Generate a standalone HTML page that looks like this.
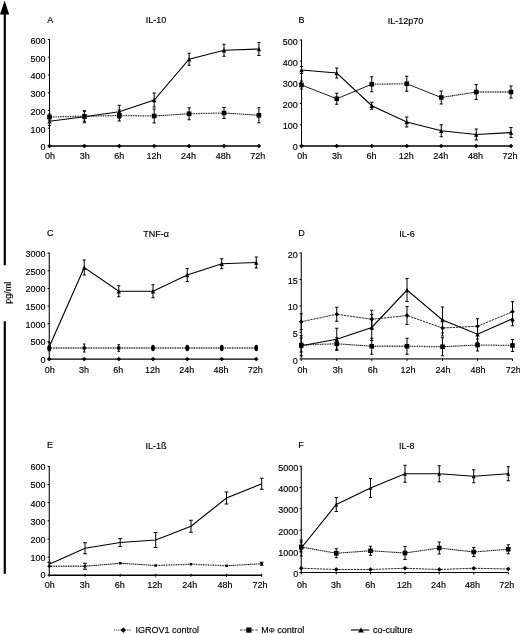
<!DOCTYPE html>
<html lang="en"><head><meta charset="utf-8"><title>Cytokine time course</title>
<style>html,body{margin:0;padding:0;background:#fff}svg{display:block}</style></head>
<body>
<svg width="520" height="634" viewBox="0 0 520 634" font-family='"Liberation Sans", sans-serif' fill="#000">
<style>text{stroke:#000;stroke-width:0.15px}</style>
<rect width="520" height="634" fill="#fff"/>
<path d="M4.6 0.5L9.2 14.6H0Z" fill="#000"/>
<path d="M4.8 14V265.3M4.8 321.2V573.8" stroke="#000" stroke-width="2.2" fill="none"/>
<text transform="translate(10.7 292.8) rotate(-90)" text-anchor="middle" font-size="9">pg/ml</text>
<path d="M47.8 146H49.5" stroke="#000" stroke-width="1"/>
<text x="45.5" y="150.3" text-anchor="end" font-size="9">0</text>
<path d="M47.8 128.25H49.5" stroke="#000" stroke-width="1"/>
<text x="45.5" y="132.55" text-anchor="end" font-size="9">100</text>
<path d="M47.8 110.5H49.5" stroke="#000" stroke-width="1"/>
<text x="45.5" y="114.8" text-anchor="end" font-size="9">200</text>
<path d="M47.8 92.75H49.5" stroke="#000" stroke-width="1"/>
<text x="45.5" y="97.05" text-anchor="end" font-size="9">300</text>
<path d="M47.8 75H49.5" stroke="#000" stroke-width="1"/>
<text x="45.5" y="79.3" text-anchor="end" font-size="9">400</text>
<path d="M47.8 57.25H49.5" stroke="#000" stroke-width="1"/>
<text x="45.5" y="61.55" text-anchor="end" font-size="9">500</text>
<path d="M47.8 39.5H49.5" stroke="#000" stroke-width="1"/>
<text x="45.5" y="43.8" text-anchor="end" font-size="9">600</text>
<text x="50.1" y="159.4" text-anchor="middle" font-size="9">0h</text>
<text x="84.72" y="159.4" text-anchor="middle" font-size="9">3h</text>
<text x="119.34" y="159.4" text-anchor="middle" font-size="9">6h</text>
<text x="153.96" y="159.4" text-anchor="middle" font-size="9">12h</text>
<text x="188.58" y="159.4" text-anchor="middle" font-size="9">24h</text>
<text x="223.2" y="159.4" text-anchor="middle" font-size="9">48h</text>
<text x="257.82" y="159.4" text-anchor="middle" font-size="9">72h</text>
<text x="47.2" y="22.9" text-anchor="start" font-size="9">A</text>
<text x="156" y="23.3" text-anchor="middle" font-size="9">IL-10</text>
<path d="M49.5 39V146" fill="none" stroke="#000" stroke-width="1.05"/>
<path d="M49 146H258.9" fill="none" stroke="#000" stroke-width="1.35"/>
<path d="M49.5 144.1L51.4 146L49.5 147.9L47.6 146Z" fill="#000" stroke="#000" stroke-width="0.7" stroke-linejoin="round"/>
<path d="M84.4 144.1L86.3 146L84.4 147.9L82.5 146Z" fill="#000" stroke="#000" stroke-width="0.7" stroke-linejoin="round"/>
<path d="M119.3 144.1L121.2 146L119.3 147.9L117.4 146Z" fill="#000" stroke="#000" stroke-width="0.7" stroke-linejoin="round"/>
<path d="M154.2 144.1L156.1 146L154.2 147.9L152.3 146Z" fill="#000" stroke="#000" stroke-width="0.7" stroke-linejoin="round"/>
<path d="M189.1 144.1L191 146L189.1 147.9L187.2 146Z" fill="#000" stroke="#000" stroke-width="0.7" stroke-linejoin="round"/>
<path d="M224 144.1L225.9 146L224 147.9L222.1 146Z" fill="#000" stroke="#000" stroke-width="0.7" stroke-linejoin="round"/>
<path d="M258.9 144.1L260.8 146L258.9 147.9L257 146Z" fill="#000" stroke="#000" stroke-width="0.7" stroke-linejoin="round"/>
<path d="M49.5 117L84.4 116.25" fill="none" stroke="#1a1a1a" stroke-width="1.3" stroke-dasharray="0.95 0.75"/>
<path d="M84.4 116.25L119.3 115.5" fill="none" stroke="#1a1a1a" stroke-width="1.3" stroke-dasharray="0.95 0.75"/>
<path d="M119.3 115.5L154.2 116" fill="none" stroke="#1a1a1a" stroke-width="1.3" stroke-dasharray="0.95 0.75"/>
<path d="M154.2 116L189.1 113.75" fill="none" stroke="#222" stroke-width="1.05" stroke-dasharray="1.6 0.5"/>
<path d="M189.1 113.75L224 113" fill="none" stroke="#1a1a1a" stroke-width="1.3" stroke-dasharray="0.95 0.75"/>
<path d="M224 113L258.9 115.25" fill="none" stroke="#222" stroke-width="1.05" stroke-dasharray="1.6 0.5"/>
<path d="M49.5 114V120M47.9 114H51.1M47.9 120H51.1" stroke="#000" stroke-width="1.0" fill="none"/>
<path d="M84.4 111.25V121.25M82.8 111.25H86M82.8 121.25H86" stroke="#000" stroke-width="1.0" fill="none"/>
<path d="M119.3 110V121M117.7 110H120.9M117.7 121H120.9" stroke="#000" stroke-width="1.0" fill="none"/>
<path d="M154.2 109V123M152.6 109H155.8M152.6 123H155.8" stroke="#000" stroke-width="1.0" fill="none"/>
<path d="M189.1 107.75V119.75M187.5 107.75H190.7M187.5 119.75H190.7" stroke="#000" stroke-width="1.0" fill="none"/>
<path d="M224 107.5V118.5M222.4 107.5H225.6M222.4 118.5H225.6" stroke="#000" stroke-width="1.0" fill="none"/>
<path d="M258.9 107.75V122.75M257.3 107.75H260.5M257.3 122.75H260.5" stroke="#000" stroke-width="1.0" fill="none"/>
<rect x="47.2" y="114.7" width="4.6" height="4.6" fill="#000"/>
<rect x="82.1" y="113.95" width="4.6" height="4.6" fill="#000"/>
<rect x="117" y="113.2" width="4.6" height="4.6" fill="#000"/>
<rect x="151.9" y="113.7" width="4.6" height="4.6" fill="#000"/>
<rect x="186.8" y="111.45" width="4.6" height="4.6" fill="#000"/>
<rect x="221.7" y="110.7" width="4.6" height="4.6" fill="#000"/>
<rect x="256.6" y="112.95" width="4.6" height="4.6" fill="#000"/>
<polyline points="49.5,121.25 84.4,116.75 119.3,111.75 154.2,100 189.1,59.25 224,50.25 258.9,49" fill="none" stroke="#000" stroke-width="1.15"/>
<path d="M49.5 117.25V125.25M47.9 117.25H51.1M47.9 125.25H51.1" stroke="#000" stroke-width="1.0" fill="none"/>
<path d="M84.4 110.75V122.75M82.8 110.75H86M82.8 122.75H86" stroke="#000" stroke-width="1.0" fill="none"/>
<path d="M119.3 105.25V118.25M117.7 105.25H120.9M117.7 118.25H120.9" stroke="#000" stroke-width="1.0" fill="none"/>
<path d="M154.2 93V107M152.6 93H155.8M152.6 107H155.8" stroke="#000" stroke-width="1.0" fill="none"/>
<path d="M189.1 53.25V65.25M187.5 53.25H190.7M187.5 65.25H190.7" stroke="#000" stroke-width="1.0" fill="none"/>
<path d="M224 44.25V56.25M222.4 44.25H225.6M222.4 56.25H225.6" stroke="#000" stroke-width="1.0" fill="none"/>
<path d="M258.9 42.5V55.5M257.3 42.5H260.5M257.3 55.5H260.5" stroke="#000" stroke-width="1.0" fill="none"/>
<path d="M49.5 119.05L51.7 123.45L47.3 123.45Z" fill="#000"/>
<path d="M84.4 114.55L86.6 118.95L82.2 118.95Z" fill="#000"/>
<path d="M119.3 109.55L121.5 113.95L117.1 113.95Z" fill="#000"/>
<path d="M154.2 97.8L156.4 102.2L152 102.2Z" fill="#000"/>
<path d="M189.1 57.05L191.3 61.45L186.9 61.45Z" fill="#000"/>
<path d="M224 48.05L226.2 52.45L221.8 52.45Z" fill="#000"/>
<path d="M258.9 46.8L261.1 51.2L256.7 51.2Z" fill="#000"/>
<path d="M299.8 146H301.5" stroke="#000" stroke-width="1"/>
<text x="297.7" y="150.4" text-anchor="end" font-size="9">0</text>
<path d="M299.8 124.8H301.5" stroke="#000" stroke-width="1"/>
<text x="297.7" y="129.4" text-anchor="end" font-size="9">100</text>
<path d="M299.8 103.6H301.5" stroke="#000" stroke-width="1"/>
<text x="297.7" y="108.2" text-anchor="end" font-size="9">200</text>
<path d="M299.8 82.4H301.5" stroke="#000" stroke-width="1"/>
<text x="297.7" y="87" text-anchor="end" font-size="9">300</text>
<path d="M299.8 61.2H301.5" stroke="#000" stroke-width="1"/>
<text x="297.7" y="65.8" text-anchor="end" font-size="9">400</text>
<path d="M299.8 40H301.5" stroke="#000" stroke-width="1"/>
<text x="297.7" y="44.6" text-anchor="end" font-size="9">500</text>
<text x="302.3" y="159.2" text-anchor="middle" font-size="9">0h</text>
<text x="336.93" y="159.2" text-anchor="middle" font-size="9">3h</text>
<text x="371.56" y="159.2" text-anchor="middle" font-size="9">6h</text>
<text x="406.19" y="159.2" text-anchor="middle" font-size="9">12h</text>
<text x="440.82" y="159.2" text-anchor="middle" font-size="9">24h</text>
<text x="475.45" y="159.2" text-anchor="middle" font-size="9">48h</text>
<text x="510.08" y="159.2" text-anchor="middle" font-size="9">72h</text>
<text x="298.4" y="22.9" text-anchor="start" font-size="9">B</text>
<text x="405.5" y="23.6" text-anchor="middle" font-size="9">IL-12p70</text>
<path d="M301.5 39.5V146" fill="none" stroke="#000" stroke-width="1.05"/>
<path d="M301 146H511" fill="none" stroke="#000" stroke-width="1.35"/>
<path d="M301.5 144.1L303.4 146L301.5 147.9L299.6 146Z" fill="#000" stroke="#000" stroke-width="0.7" stroke-linejoin="round"/>
<path d="M336.75 144.1L338.65 146L336.75 147.9L334.85 146Z" fill="#000" stroke="#000" stroke-width="0.7" stroke-linejoin="round"/>
<path d="M371.75 144.1L373.65 146L371.75 147.9L369.85 146Z" fill="#000" stroke="#000" stroke-width="0.7" stroke-linejoin="round"/>
<path d="M406.75 144.1L408.65 146L406.75 147.9L404.85 146Z" fill="#000" stroke="#000" stroke-width="0.7" stroke-linejoin="round"/>
<path d="M441.25 144.1L443.15 146L441.25 147.9L439.35 146Z" fill="#000" stroke="#000" stroke-width="0.7" stroke-linejoin="round"/>
<path d="M476.25 144.1L478.15 146L476.25 147.9L474.35 146Z" fill="#000" stroke="#000" stroke-width="0.7" stroke-linejoin="round"/>
<path d="M511 144.1L512.9 146L511 147.9L509.1 146Z" fill="#000" stroke="#000" stroke-width="0.7" stroke-linejoin="round"/>
<path d="M301.5 85L336.75 98.75" fill="none" stroke="#111" stroke-width="0.95"/>
<path d="M336.75 98.75L371.75 84.25" fill="none" stroke="#111" stroke-width="0.95"/>
<path d="M371.75 84.25L406.75 83.75" fill="none" stroke="#1a1a1a" stroke-width="1.3" stroke-dasharray="0.95 0.75"/>
<path d="M406.75 83.75L441.25 97.5" fill="none" stroke="#111" stroke-width="0.95"/>
<path d="M441.25 97.5L476.25 92" fill="none" stroke="#222" stroke-width="1.05" stroke-dasharray="1.6 0.5"/>
<path d="M476.25 92L511 92" fill="none" stroke="#1a1a1a" stroke-width="1.3" stroke-dasharray="0.95 0.75"/>
<path d="M301.5 81V89M299.9 81H303.1M299.9 89H303.1" stroke="#000" stroke-width="1.0" fill="none"/>
<path d="M336.75 93.25V104.25M335.15 93.25H338.35M335.15 104.25H338.35" stroke="#000" stroke-width="1.0" fill="none"/>
<path d="M371.75 76.75V91.75M370.15 76.75H373.35M370.15 91.75H373.35" stroke="#000" stroke-width="1.0" fill="none"/>
<path d="M406.75 76.25V91.25M405.15 76.25H408.35M405.15 91.25H408.35" stroke="#000" stroke-width="1.0" fill="none"/>
<path d="M441.25 91V104M439.65 91H442.85M439.65 104H442.85" stroke="#000" stroke-width="1.0" fill="none"/>
<path d="M476.25 84.5V99.5M474.65 84.5H477.85M474.65 99.5H477.85" stroke="#000" stroke-width="1.0" fill="none"/>
<path d="M511 86V98M509.4 86H512.6M509.4 98H512.6" stroke="#000" stroke-width="1.0" fill="none"/>
<rect x="299.2" y="82.7" width="4.6" height="4.6" fill="#000"/>
<rect x="334.45" y="96.45" width="4.6" height="4.6" fill="#000"/>
<rect x="369.45" y="81.95" width="4.6" height="4.6" fill="#000"/>
<rect x="404.45" y="81.45" width="4.6" height="4.6" fill="#000"/>
<rect x="438.95" y="95.2" width="4.6" height="4.6" fill="#000"/>
<rect x="473.95" y="89.7" width="4.6" height="4.6" fill="#000"/>
<rect x="508.7" y="89.7" width="4.6" height="4.6" fill="#000"/>
<polyline points="301.5,70 336.75,73 371.75,105.75 406.75,122 441.25,130.75 476.25,134.5 511,132.5" fill="none" stroke="#000" stroke-width="1.15"/>
<path d="M301.5 66.5V73.5M299.9 66.5H303.1M299.9 73.5H303.1" stroke="#000" stroke-width="1.0" fill="none"/>
<path d="M336.75 68V78M335.15 68H338.35M335.15 78H338.35" stroke="#000" stroke-width="1.0" fill="none"/>
<path d="M371.75 102.25V109.25M370.15 102.25H373.35M370.15 109.25H373.35" stroke="#000" stroke-width="1.0" fill="none"/>
<path d="M406.75 117V127M405.15 117H408.35M405.15 127H408.35" stroke="#000" stroke-width="1.0" fill="none"/>
<path d="M441.25 124.75V136.75M439.65 124.75H442.85M439.65 136.75H442.85" stroke="#000" stroke-width="1.0" fill="none"/>
<path d="M476.25 129V140M474.65 129H477.85M474.65 140H477.85" stroke="#000" stroke-width="1.0" fill="none"/>
<path d="M511 127.5V137.5M509.4 127.5H512.6M509.4 137.5H512.6" stroke="#000" stroke-width="1.0" fill="none"/>
<path d="M301.5 67.8L303.7 72.2L299.3 72.2Z" fill="#000"/>
<path d="M336.75 70.8L338.95 75.2L334.55 75.2Z" fill="#000"/>
<path d="M371.75 103.55L373.95 107.95L369.55 107.95Z" fill="#000"/>
<path d="M406.75 119.8L408.95 124.2L404.55 124.2Z" fill="#000"/>
<path d="M441.25 128.55L443.45 132.95L439.05 132.95Z" fill="#000"/>
<path d="M476.25 132.3L478.45 136.7L474.05 136.7Z" fill="#000"/>
<path d="M511 130.3L513.2 134.7L508.8 134.7Z" fill="#000"/>
<path d="M47.55 359.1H49.25" stroke="#000" stroke-width="1"/>
<text x="45.45" y="363.1" text-anchor="end" font-size="9">0</text>
<path d="M47.55 341.43H49.25" stroke="#000" stroke-width="1"/>
<text x="45.45" y="345.23" text-anchor="end" font-size="9">500</text>
<path d="M47.55 323.77H49.25" stroke="#000" stroke-width="1"/>
<text x="45.45" y="327.57" text-anchor="end" font-size="9">1000</text>
<path d="M47.55 306.1H49.25" stroke="#000" stroke-width="1"/>
<text x="45.45" y="309.9" text-anchor="end" font-size="9">1500</text>
<path d="M47.55 288.43H49.25" stroke="#000" stroke-width="1"/>
<text x="45.45" y="292.23" text-anchor="end" font-size="9">2000</text>
<path d="M47.55 270.77H49.25" stroke="#000" stroke-width="1"/>
<text x="45.45" y="274.57" text-anchor="end" font-size="9">2500</text>
<path d="M47.55 253.1H49.25" stroke="#000" stroke-width="1"/>
<text x="45.45" y="256.9" text-anchor="end" font-size="9">3000</text>
<text x="49.85" y="373.4" text-anchor="middle" font-size="9">0h</text>
<text x="84.1" y="373.4" text-anchor="middle" font-size="9">3h</text>
<text x="118.35" y="373.4" text-anchor="middle" font-size="9">6h</text>
<text x="152.6" y="373.4" text-anchor="middle" font-size="9">12h</text>
<text x="186.85" y="373.4" text-anchor="middle" font-size="9">24h</text>
<text x="221.1" y="373.4" text-anchor="middle" font-size="9">48h</text>
<text x="255.35" y="373.4" text-anchor="middle" font-size="9">72h</text>
<text x="46.95" y="236.4" text-anchor="start" font-size="9">C</text>
<text x="156.1" y="236.9" text-anchor="middle" font-size="9">TNF-α</text>
<path d="M49.25 252.6V359.1" fill="none" stroke="#000" stroke-width="1.05"/>
<path d="M48.75 359.1H256.25" fill="none" stroke="#000" stroke-width="1.35"/>
<path d="M49.25 357.2L51.15 359.1L49.25 361L47.35 359.1Z" fill="#000" stroke="#000" stroke-width="0.7" stroke-linejoin="round"/>
<path d="M84.25 357.2L86.15 359.1L84.25 361L82.35 359.1Z" fill="#000" stroke="#000" stroke-width="0.7" stroke-linejoin="round"/>
<path d="M118.75 357.2L120.65 359.1L118.75 361L116.85 359.1Z" fill="#000" stroke="#000" stroke-width="0.7" stroke-linejoin="round"/>
<path d="M153 357.2L154.9 359.1L153 361L151.1 359.1Z" fill="#000" stroke="#000" stroke-width="0.7" stroke-linejoin="round"/>
<path d="M187.25 357.2L189.15 359.1L187.25 361L185.35 359.1Z" fill="#000" stroke="#000" stroke-width="0.7" stroke-linejoin="round"/>
<path d="M221.75 357.2L223.65 359.1L221.75 361L219.85 359.1Z" fill="#000" stroke="#000" stroke-width="0.7" stroke-linejoin="round"/>
<path d="M256.25 357.2L258.15 359.1L256.25 361L254.35 359.1Z" fill="#000" stroke="#000" stroke-width="0.7" stroke-linejoin="round"/>
<path d="M49.25 348L84.25 348" fill="none" stroke="#1a1a1a" stroke-width="1.3" stroke-dasharray="0.95 0.75"/>
<path d="M84.25 348L118.75 348" fill="none" stroke="#1a1a1a" stroke-width="1.3" stroke-dasharray="0.95 0.75"/>
<path d="M118.75 348L153 348" fill="none" stroke="#1a1a1a" stroke-width="1.3" stroke-dasharray="0.95 0.75"/>
<path d="M153 348L187.25 348" fill="none" stroke="#1a1a1a" stroke-width="1.3" stroke-dasharray="0.95 0.75"/>
<path d="M187.25 348L221.75 348" fill="none" stroke="#1a1a1a" stroke-width="1.3" stroke-dasharray="0.95 0.75"/>
<path d="M221.75 348L256.25 348" fill="none" stroke="#1a1a1a" stroke-width="1.3" stroke-dasharray="0.95 0.75"/>
<path d="M84.25 344V352M82.95 344H85.55M82.95 352H85.55" stroke="#000" stroke-width="1.0" fill="none"/>
<path d="M118.75 344.7V351.3M117.45 344.7H120.05M117.45 351.3H120.05" stroke="#000" stroke-width="1.0" fill="none"/>
<polyline points="49.25,346.75 84.25,267.5 118.75,291.25 153,291.25 187.25,275 221.75,263.75 256.25,262.5" fill="none" stroke="#000" stroke-width="1.15"/>
<path d="M49.25 342.75V350.75M47.65 342.75H50.85M47.65 350.75H50.85" stroke="#000" stroke-width="1.0" fill="none"/>
<path d="M84.25 260V275M82.65 260H85.85M82.65 275H85.85" stroke="#000" stroke-width="1.0" fill="none"/>
<path d="M118.75 285.75V296.75M117.15 285.75H120.35M117.15 296.75H120.35" stroke="#000" stroke-width="1.0" fill="none"/>
<path d="M153 284.75V297.75M151.4 284.75H154.6M151.4 297.75H154.6" stroke="#000" stroke-width="1.0" fill="none"/>
<path d="M187.25 268.5V281.5M185.65 268.5H188.85M185.65 281.5H188.85" stroke="#000" stroke-width="1.0" fill="none"/>
<path d="M221.75 258.75V268.75M220.15 258.75H223.35M220.15 268.75H223.35" stroke="#000" stroke-width="1.0" fill="none"/>
<path d="M256.25 257V268M254.65 257H257.85M254.65 268H257.85" stroke="#000" stroke-width="1.0" fill="none"/>
<path d="M49.25 344.55L51.45 348.95L47.05 348.95Z" fill="#000"/>
<path d="M84.25 265.3L86.45 269.7L82.05 269.7Z" fill="#000"/>
<path d="M118.75 289.05L120.95 293.45L116.55 293.45Z" fill="#000"/>
<path d="M153 289.05L155.2 293.45L150.8 293.45Z" fill="#000"/>
<path d="M187.25 272.8L189.45 277.2L185.05 277.2Z" fill="#000"/>
<path d="M221.75 261.55L223.95 265.95L219.55 265.95Z" fill="#000"/>
<path d="M256.25 260.3L258.45 264.7L254.05 264.7Z" fill="#000"/>
<ellipse cx="49.25" cy="348" rx="1.9" ry="3.3" fill="#000"/>
<rect x="82.65" y="346.4" width="3.2" height="3.2" fill="#000"/>
<rect x="117.15" y="346.4" width="3.2" height="3.2" fill="#000"/>
<ellipse cx="153" cy="348" rx="1.9" ry="3.3" fill="#000"/>
<ellipse cx="187.25" cy="348" rx="1.9" ry="3.3" fill="#000"/>
<ellipse cx="221.75" cy="348" rx="1.9" ry="3.3" fill="#000"/>
<ellipse cx="256.25" cy="348" rx="1.9" ry="3.3" fill="#000"/>
<path d="M299.55 358.9H301.25" stroke="#000" stroke-width="1"/>
<text x="297.75" y="364.1" text-anchor="end" font-size="9">0</text>
<path d="M299.55 332.42H301.25" stroke="#000" stroke-width="1"/>
<text x="297.75" y="336.92" text-anchor="end" font-size="9">5</text>
<path d="M299.55 305.95H301.25" stroke="#000" stroke-width="1"/>
<text x="297.75" y="310.45" text-anchor="end" font-size="9">10</text>
<path d="M299.55 279.48H301.25" stroke="#000" stroke-width="1"/>
<text x="297.75" y="283.98" text-anchor="end" font-size="9">15</text>
<path d="M299.55 253H301.25" stroke="#000" stroke-width="1"/>
<text x="297.75" y="257.5" text-anchor="end" font-size="9">20</text>
<text x="302.6" y="373.4" text-anchor="middle" font-size="9">0h</text>
<text x="337.7" y="373.4" text-anchor="middle" font-size="9">3h</text>
<text x="372.8" y="373.4" text-anchor="middle" font-size="9">6h</text>
<text x="407.9" y="373.4" text-anchor="middle" font-size="9">12h</text>
<text x="443" y="373.4" text-anchor="middle" font-size="9">24h</text>
<text x="478.1" y="373.4" text-anchor="middle" font-size="9">48h</text>
<text x="513.2" y="373.4" text-anchor="middle" font-size="9">72h</text>
<text x="298.15" y="236.4" text-anchor="start" font-size="9">D</text>
<text x="407" y="237.1" text-anchor="middle" font-size="9">IL-6</text>
<path d="M301.25 252.5V358.9" fill="none" stroke="#000" stroke-width="1.05"/>
<path d="M300.75 358.9H512.5" fill="none" stroke="#5c5c5c" stroke-width="1.7"/>
<path d="M301.25 358.9V360.9" stroke="#000" stroke-width="1"/>
<path d="M336.75 358.9V360.9" stroke="#000" stroke-width="1"/>
<path d="M371.75 358.9V360.9" stroke="#000" stroke-width="1"/>
<path d="M407 358.9V360.9" stroke="#000" stroke-width="1"/>
<path d="M442.5 358.9V360.9" stroke="#000" stroke-width="1"/>
<path d="M477.5 358.9V360.9" stroke="#000" stroke-width="1"/>
<path d="M512.5 358.9V360.9" stroke="#000" stroke-width="1"/>
<polyline points="301.25,321.75 336.75,314.25 371.75,319.25 407,315.5 442.5,328 477.5,326.25 512.5,311.75" fill="none" stroke="#1c1c1c" stroke-width="0.95" stroke-dasharray="2.3 0.8"/>
<path d="M301.25 313.75V329.75M299.65 313.75H302.85M299.65 329.75H302.85" stroke="#000" stroke-width="1.0" fill="none"/>
<path d="M336.75 307.25V321.25M335.15 307.25H338.35M335.15 321.25H338.35" stroke="#000" stroke-width="1.0" fill="none"/>
<path d="M371.75 310.25V328.25M370.15 310.25H373.35M370.15 328.25H373.35" stroke="#000" stroke-width="1.0" fill="none"/>
<path d="M407 306.5V324.5M405.4 306.5H408.6M405.4 324.5H408.6" stroke="#000" stroke-width="1.0" fill="none"/>
<path d="M442.5 320V336M440.9 320H444.1M440.9 336H444.1" stroke="#000" stroke-width="1.0" fill="none"/>
<path d="M477.5 318.75V333.75M475.9 318.75H479.1M475.9 333.75H479.1" stroke="#000" stroke-width="1.0" fill="none"/>
<path d="M512.5 301.75V321.75M510.9 301.75H514.1M510.9 321.75H514.1" stroke="#000" stroke-width="1.0" fill="none"/>
<path d="M301.25 319.85L303.15 321.75L301.25 323.65L299.35 321.75Z" fill="#000" stroke="#000" stroke-width="0.7" stroke-linejoin="round"/>
<path d="M336.75 312.35L338.65 314.25L336.75 316.15L334.85 314.25Z" fill="#000" stroke="#000" stroke-width="0.7" stroke-linejoin="round"/>
<path d="M371.75 317.35L373.65 319.25L371.75 321.15L369.85 319.25Z" fill="#000" stroke="#000" stroke-width="0.7" stroke-linejoin="round"/>
<path d="M407 313.6L408.9 315.5L407 317.4L405.1 315.5Z" fill="#000" stroke="#000" stroke-width="0.7" stroke-linejoin="round"/>
<path d="M442.5 326.1L444.4 328L442.5 329.9L440.6 328Z" fill="#000" stroke="#000" stroke-width="0.7" stroke-linejoin="round"/>
<path d="M477.5 324.35L479.4 326.25L477.5 328.15L475.6 326.25Z" fill="#000" stroke="#000" stroke-width="0.7" stroke-linejoin="round"/>
<path d="M512.5 309.85L514.4 311.75L512.5 313.65L510.6 311.75Z" fill="#000" stroke="#000" stroke-width="0.7" stroke-linejoin="round"/>
<path d="M301.25 345L336.75 343.75" fill="none" stroke="#1a1a1a" stroke-width="1.3" stroke-dasharray="0.95 0.75"/>
<path d="M336.75 343.75L371.75 346.25" fill="none" stroke="#222" stroke-width="1.05" stroke-dasharray="1.6 0.5"/>
<path d="M371.75 346.25L407 346.25" fill="none" stroke="#1a1a1a" stroke-width="1.3" stroke-dasharray="0.95 0.75"/>
<path d="M407 346.25L442.5 346.75" fill="none" stroke="#1a1a1a" stroke-width="1.3" stroke-dasharray="0.95 0.75"/>
<path d="M442.5 346.75L477.5 345" fill="none" stroke="#222" stroke-width="1.05" stroke-dasharray="1.6 0.5"/>
<path d="M477.5 345L512.5 345.5" fill="none" stroke="#1a1a1a" stroke-width="1.3" stroke-dasharray="0.95 0.75"/>
<path d="M301.25 338V352M299.65 338H302.85M299.65 352H302.85" stroke="#000" stroke-width="1.0" fill="none"/>
<path d="M336.75 337.75V349.75M335.15 337.75H338.35M335.15 349.75H338.35" stroke="#000" stroke-width="1.0" fill="none"/>
<path d="M371.75 338.25V354.25M370.15 338.25H373.35M370.15 354.25H373.35" stroke="#000" stroke-width="1.0" fill="none"/>
<path d="M407 338.25V354.25M405.4 338.25H408.6M405.4 354.25H408.6" stroke="#000" stroke-width="1.0" fill="none"/>
<path d="M442.5 337.75V355.75M440.9 337.75H444.1M440.9 355.75H444.1" stroke="#000" stroke-width="1.0" fill="none"/>
<path d="M477.5 339V351M475.9 339H479.1M475.9 351H479.1" stroke="#000" stroke-width="1.0" fill="none"/>
<path d="M512.5 339.5V351.5M510.9 339.5H514.1M510.9 351.5H514.1" stroke="#000" stroke-width="1.0" fill="none"/>
<rect x="298.95" y="342.7" width="4.6" height="4.6" fill="#000"/>
<rect x="334.45" y="341.45" width="4.6" height="4.6" fill="#000"/>
<rect x="369.45" y="343.95" width="4.6" height="4.6" fill="#000"/>
<rect x="404.7" y="343.95" width="4.6" height="4.6" fill="#000"/>
<rect x="440.2" y="344.45" width="4.6" height="4.6" fill="#000"/>
<rect x="475.2" y="342.7" width="4.6" height="4.6" fill="#000"/>
<rect x="510.2" y="343.2" width="4.6" height="4.6" fill="#000"/>
<polyline points="301.25,345.75 336.75,339.25 371.75,327.5 407,290 442.5,320 477.5,334.25 512.5,318.75" fill="none" stroke="#000" stroke-width="1.15"/>
<path d="M301.25 335.75V355.75M299.65 335.75H302.85M299.65 355.75H302.85" stroke="#000" stroke-width="1.0" fill="none"/>
<path d="M336.75 328.25V350.25M335.15 328.25H338.35M335.15 350.25H338.35" stroke="#000" stroke-width="1.0" fill="none"/>
<path d="M371.75 314.5V340.5M370.15 314.5H373.35M370.15 340.5H373.35" stroke="#000" stroke-width="1.0" fill="none"/>
<path d="M407 278.5V301.5M405.4 278.5H408.6M405.4 301.5H408.6" stroke="#000" stroke-width="1.0" fill="none"/>
<path d="M442.5 307V333M440.9 307H444.1M440.9 333H444.1" stroke="#000" stroke-width="1.0" fill="none"/>
<path d="M477.5 326.25V342.25M475.9 326.25H479.1M475.9 342.25H479.1" stroke="#000" stroke-width="1.0" fill="none"/>
<path d="M512.5 311.75V325.75M510.9 311.75H514.1M510.9 325.75H514.1" stroke="#000" stroke-width="1.0" fill="none"/>
<path d="M301.25 343.55L303.45 347.95L299.05 347.95Z" fill="#000"/>
<path d="M336.75 337.05L338.95 341.45L334.55 341.45Z" fill="#000"/>
<path d="M371.75 325.3L373.95 329.7L369.55 329.7Z" fill="#000"/>
<path d="M407 287.8L409.2 292.2L404.8 292.2Z" fill="#000"/>
<path d="M442.5 317.8L444.7 322.2L440.3 322.2Z" fill="#000"/>
<path d="M477.5 332.05L479.7 336.45L475.3 336.45Z" fill="#000"/>
<path d="M512.5 316.55L514.7 320.95L510.3 320.95Z" fill="#000"/>
<path d="M47.55 575.2H49.25" stroke="#000" stroke-width="1"/>
<text x="45.45" y="578.1" text-anchor="end" font-size="9">0</text>
<path d="M47.55 557.07H49.25" stroke="#000" stroke-width="1"/>
<text x="45.45" y="561.02" text-anchor="end" font-size="9">100</text>
<path d="M47.55 538.93H49.25" stroke="#000" stroke-width="1"/>
<text x="45.45" y="542.88" text-anchor="end" font-size="9">200</text>
<path d="M47.55 520.8H49.25" stroke="#000" stroke-width="1"/>
<text x="45.45" y="524.75" text-anchor="end" font-size="9">300</text>
<path d="M47.55 502.67H49.25" stroke="#000" stroke-width="1"/>
<text x="45.45" y="506.62" text-anchor="end" font-size="9">400</text>
<path d="M47.55 484.53H49.25" stroke="#000" stroke-width="1"/>
<text x="45.45" y="488.48" text-anchor="end" font-size="9">500</text>
<path d="M47.55 466.4H49.25" stroke="#000" stroke-width="1"/>
<text x="45.45" y="470.35" text-anchor="end" font-size="9">600</text>
<text x="49.65" y="587.7" text-anchor="middle" font-size="9">0h</text>
<text x="84.7" y="587.7" text-anchor="middle" font-size="9">3h</text>
<text x="119.75" y="587.7" text-anchor="middle" font-size="9">6h</text>
<text x="154.8" y="587.7" text-anchor="middle" font-size="9">12h</text>
<text x="189.85" y="587.7" text-anchor="middle" font-size="9">24h</text>
<text x="224.9" y="587.7" text-anchor="middle" font-size="9">48h</text>
<text x="259.95" y="587.7" text-anchor="middle" font-size="9">72h</text>
<text x="46.95" y="447.9" text-anchor="start" font-size="9">E</text>
<text x="156" y="448.7" text-anchor="middle" font-size="9">IL-1ß</text>
<path d="M49.25 465.9V575.2" fill="none" stroke="#000" stroke-width="1.05"/>
<path d="M48.75 575.2H261.7" fill="none" stroke="#000" stroke-width="1.5"/>
<path d="M49.25 573.8V576.8" stroke="#000" stroke-width="1"/>
<path d="M85 573.8V576.8" stroke="#000" stroke-width="1"/>
<path d="M120.2 573.8V576.8" stroke="#000" stroke-width="1"/>
<path d="M155.7 573.8V576.8" stroke="#000" stroke-width="1"/>
<path d="M191 573.8V576.8" stroke="#000" stroke-width="1"/>
<path d="M226.5 573.8V576.8" stroke="#000" stroke-width="1"/>
<path d="M261.7 573.8V576.8" stroke="#000" stroke-width="1"/>
<path d="M49.25 566.25L85 566.25" fill="none" stroke="#1a1a1a" stroke-width="1.3" stroke-dasharray="0.95 0.75"/>
<path d="M85 566.25L120.2 563.25" fill="none" stroke="#222" stroke-width="1.05" stroke-dasharray="1.6 0.5"/>
<path d="M120.2 563.25L155.7 565.5" fill="none" stroke="#222" stroke-width="1.05" stroke-dasharray="1.6 0.5"/>
<path d="M155.7 565.5L191 564.25" fill="none" stroke="#1a1a1a" stroke-width="1.3" stroke-dasharray="0.95 0.75"/>
<path d="M191 564.25L226.5 565.75" fill="none" stroke="#1a1a1a" stroke-width="1.3" stroke-dasharray="0.95 0.75"/>
<path d="M226.5 565.75L261.7 563.75" fill="none" stroke="#222" stroke-width="1.05" stroke-dasharray="1.6 0.5"/>
<path d="M85 563.25V569.25M83.1 563.25H86.9M83.1 569.25H86.9" stroke="#000" stroke-width="1.0" fill="none"/>
<path d="M261.7 562.25V565.25M259.8 562.25H263.6M259.8 565.25H263.6" stroke="#000" stroke-width="1.0" fill="none"/>
<rect x="48" y="565" width="2.5" height="2.5" fill="#000"/>
<rect x="83.75" y="565" width="2.5" height="2.5" fill="#000"/>
<rect x="118.95" y="562" width="2.5" height="2.5" fill="#000"/>
<rect x="154.45" y="564.25" width="2.5" height="2.5" fill="#000"/>
<rect x="189.75" y="563" width="2.5" height="2.5" fill="#000"/>
<rect x="225.25" y="564.5" width="2.5" height="2.5" fill="#000"/>
<rect x="260.45" y="562.5" width="2.5" height="2.5" fill="#000"/>
<polyline points="49.25,564.25 85,548.25 120.2,542.5 155.7,540 191,526.25 226.5,498 261.7,483.75" fill="none" stroke="#000" stroke-width="1.15"/>
<path d="M49.25 562.25V566.25M47.35 562.25H51.15M47.35 566.25H51.15" stroke="#000" stroke-width="1.0" fill="none"/>
<path d="M85 542.75V553.75M83.1 542.75H86.9M83.1 553.75H86.9" stroke="#000" stroke-width="1.0" fill="none"/>
<path d="M120.2 538.5V546.5M118.3 538.5H122.1M118.3 546.5H122.1" stroke="#000" stroke-width="1.0" fill="none"/>
<path d="M155.7 532.5V547.5M153.8 532.5H157.6M153.8 547.5H157.6" stroke="#000" stroke-width="1.0" fill="none"/>
<path d="M191 520.25V532.25M189.1 520.25H192.9M189.1 532.25H192.9" stroke="#000" stroke-width="1.0" fill="none"/>
<path d="M226.5 492V504M224.6 492H228.4M224.6 504H228.4" stroke="#000" stroke-width="1.0" fill="none"/>
<path d="M261.7 478.25V489.25M259.8 478.25H263.6M259.8 489.25H263.6" stroke="#000" stroke-width="1.0" fill="none"/>
<path d="M299.55 572.5H301.25" stroke="#000" stroke-width="1"/>
<text x="298.25" y="577.05" text-anchor="end" font-size="9">0</text>
<path d="M299.55 551.25H301.25" stroke="#000" stroke-width="1"/>
<text x="298.25" y="555.8" text-anchor="end" font-size="9">1000</text>
<path d="M299.55 530H301.25" stroke="#000" stroke-width="1"/>
<text x="298.25" y="534.55" text-anchor="end" font-size="9">2000</text>
<path d="M299.55 508.75H301.25" stroke="#000" stroke-width="1"/>
<text x="298.25" y="513.3" text-anchor="end" font-size="9">3000</text>
<path d="M299.55 487.5H301.25" stroke="#000" stroke-width="1"/>
<text x="298.25" y="492.05" text-anchor="end" font-size="9">4000</text>
<path d="M299.55 466.25H301.25" stroke="#000" stroke-width="1"/>
<text x="298.25" y="470.8" text-anchor="end" font-size="9">5000</text>
<text x="301.9" y="587.5" text-anchor="middle" font-size="9">0h</text>
<text x="336.03" y="587.5" text-anchor="middle" font-size="9">3h</text>
<text x="370.16" y="587.5" text-anchor="middle" font-size="9">6h</text>
<text x="404.29" y="587.5" text-anchor="middle" font-size="9">12h</text>
<text x="438.42" y="587.5" text-anchor="middle" font-size="9">24h</text>
<text x="472.55" y="587.5" text-anchor="middle" font-size="9">48h</text>
<text x="506.68" y="587.5" text-anchor="middle" font-size="9">72h</text>
<text x="298.15" y="447.9" text-anchor="start" font-size="9">F</text>
<text x="406.75" y="449.1" text-anchor="middle" font-size="9">IL-8</text>
<path d="M301.25 465.75V572.5" fill="none" stroke="#000" stroke-width="1.05"/>
<path d="M300.75 572.5H508.25" fill="none" stroke="#000" stroke-width="1.15"/>
<path d="M301.25 572.5V574.5" stroke="#000" stroke-width="1"/>
<path d="M336.25 572.5V574.5" stroke="#000" stroke-width="1"/>
<path d="M370.5 572.5V574.5" stroke="#000" stroke-width="1"/>
<path d="M405 572.5V574.5" stroke="#000" stroke-width="1"/>
<path d="M439.25 572.5V574.5" stroke="#000" stroke-width="1"/>
<path d="M473.75 572.5V574.5" stroke="#000" stroke-width="1"/>
<path d="M508.25 572.5V574.5" stroke="#000" stroke-width="1"/>
<polyline points="301.25,568.25 336.25,569.5 370.5,569.5 405,568.25 439.25,569.5 473.75,568.25 508.25,569" fill="none" stroke="#1c1c1c" stroke-width="0.95" stroke-dasharray="2.3 0.8"/>
<path d="M301.25 566.35L303.15 568.25L301.25 570.15L299.35 568.25Z" fill="#000" stroke="#000" stroke-width="0.7" stroke-linejoin="round"/>
<path d="M336.25 567.6L338.15 569.5L336.25 571.4L334.35 569.5Z" fill="#000" stroke="#000" stroke-width="0.7" stroke-linejoin="round"/>
<path d="M370.5 567.6L372.4 569.5L370.5 571.4L368.6 569.5Z" fill="#000" stroke="#000" stroke-width="0.7" stroke-linejoin="round"/>
<path d="M405 566.35L406.9 568.25L405 570.15L403.1 568.25Z" fill="#000" stroke="#000" stroke-width="0.7" stroke-linejoin="round"/>
<path d="M439.25 567.6L441.15 569.5L439.25 571.4L437.35 569.5Z" fill="#000" stroke="#000" stroke-width="0.7" stroke-linejoin="round"/>
<path d="M473.75 566.35L475.65 568.25L473.75 570.15L471.85 568.25Z" fill="#000" stroke="#000" stroke-width="0.7" stroke-linejoin="round"/>
<path d="M508.25 567.1L510.15 569L508.25 570.9L506.35 569Z" fill="#000" stroke="#000" stroke-width="0.7" stroke-linejoin="round"/>
<path d="M301.25 547L336.25 553.25" fill="none" stroke="#222" stroke-width="1.05" stroke-dasharray="1.6 0.5"/>
<path d="M336.25 553.25L370.5 550.75" fill="none" stroke="#222" stroke-width="1.05" stroke-dasharray="1.6 0.5"/>
<path d="M370.5 550.75L405 553" fill="none" stroke="#222" stroke-width="1.05" stroke-dasharray="1.6 0.5"/>
<path d="M405 553L439.25 548" fill="none" stroke="#222" stroke-width="1.05" stroke-dasharray="1.6 0.5"/>
<path d="M439.25 548L473.75 552" fill="none" stroke="#222" stroke-width="1.05" stroke-dasharray="1.6 0.5"/>
<path d="M473.75 552L508.25 549.25" fill="none" stroke="#222" stroke-width="1.05" stroke-dasharray="1.6 0.5"/>
<path d="M301.25 542V552M299.65 542H302.85M299.65 552H302.85" stroke="#000" stroke-width="1.0" fill="none"/>
<path d="M336.25 548.75V557.75M334.65 548.75H337.85M334.65 557.75H337.85" stroke="#000" stroke-width="1.0" fill="none"/>
<path d="M370.5 546.25V555.25M368.9 546.25H372.1M368.9 555.25H372.1" stroke="#000" stroke-width="1.0" fill="none"/>
<path d="M405 546.5V559.5M403.4 546.5H406.6M403.4 559.5H406.6" stroke="#000" stroke-width="1.0" fill="none"/>
<path d="M439.25 542V554M437.65 542H440.85M437.65 554H440.85" stroke="#000" stroke-width="1.0" fill="none"/>
<path d="M473.75 547.5V556.5M472.15 547.5H475.35M472.15 556.5H475.35" stroke="#000" stroke-width="1.0" fill="none"/>
<path d="M508.25 544.75V553.75M506.65 544.75H509.85M506.65 553.75H509.85" stroke="#000" stroke-width="1.0" fill="none"/>
<rect x="298.95" y="544.7" width="4.6" height="4.6" fill="#000"/>
<rect x="333.95" y="550.95" width="4.6" height="4.6" fill="#000"/>
<rect x="368.2" y="548.45" width="4.6" height="4.6" fill="#000"/>
<rect x="402.7" y="550.7" width="4.6" height="4.6" fill="#000"/>
<rect x="436.95" y="545.7" width="4.6" height="4.6" fill="#000"/>
<rect x="471.45" y="549.7" width="4.6" height="4.6" fill="#000"/>
<rect x="505.95" y="546.95" width="4.6" height="4.6" fill="#000"/>
<polyline points="301.25,548 336.25,504.5 370.5,488 405,473.75 439.25,473.75 473.75,476.25 508.25,473.75" fill="none" stroke="#000" stroke-width="1.15"/>
<path d="M301.25 540V556M299.65 540H302.85M299.65 556H302.85" stroke="#000" stroke-width="1.0" fill="none"/>
<path d="M336.25 497.5V511.5M334.65 497.5H337.85M334.65 511.5H337.85" stroke="#000" stroke-width="1.0" fill="none"/>
<path d="M370.5 478.5V497.5M368.9 478.5H372.1M368.9 497.5H372.1" stroke="#000" stroke-width="1.0" fill="none"/>
<path d="M405 465.25V482.25M403.4 465.25H406.6M403.4 482.25H406.6" stroke="#000" stroke-width="1.0" fill="none"/>
<path d="M439.25 465.75V481.75M437.65 465.75H440.85M437.65 481.75H440.85" stroke="#000" stroke-width="1.0" fill="none"/>
<path d="M473.75 469.75V482.75M472.15 469.75H475.35M472.15 482.75H475.35" stroke="#000" stroke-width="1.0" fill="none"/>
<path d="M508.25 466.75V480.75M506.65 466.75H509.85M506.65 480.75H509.85" stroke="#000" stroke-width="1.0" fill="none"/>
<path d="M301.25 546.1L303.15 549.9L299.35 549.9Z" fill="#000"/>
<path d="M336.25 502.6L338.15 506.4L334.35 506.4Z" fill="#000"/>
<path d="M370.5 486.1L372.4 489.9L368.6 489.9Z" fill="#000"/>
<path d="M405 471.85L406.9 475.65L403.1 475.65Z" fill="#000"/>
<path d="M439.25 471.85L441.15 475.65L437.35 475.65Z" fill="#000"/>
<path d="M473.75 474.35L475.65 478.15L471.85 478.15Z" fill="#000"/>
<path d="M508.25 471.85L510.15 475.65L506.35 475.65Z" fill="#000"/>
<path d="M113.9 630H131.5" stroke="#444" stroke-width="1.1" stroke-dasharray="1.3 0.9"/>
<path d="M123.2 627.75L125.55 630.1L123.2 632.45L120.85 630.1Z" fill="#000" stroke="#000" stroke-width="0.7" stroke-linejoin="round"/>
<text x="135.5" y="633.1" text-anchor="start" font-size="9">IGROV1 control</text>
<path d="M240 630H258.5" stroke="#444" stroke-width="1.1" stroke-dasharray="2.6 1.2"/>
<rect x="246.3" y="627.5" width="5.2" height="5.2" fill="#000"/>
<text x="261.2" y="633.1" text-anchor="start" font-size="9">M<tspan font-size="7.6">Φ</tspan> control</text>
<path d="M351 630H369.3" stroke="#000" stroke-width="1.1"/>
<path d="M361 627.4L363.9 632.5H358.1Z" fill="#000"/>
<text x="373" y="633.1" text-anchor="start" font-size="9">co-culture</text>
</svg>
</body></html>
